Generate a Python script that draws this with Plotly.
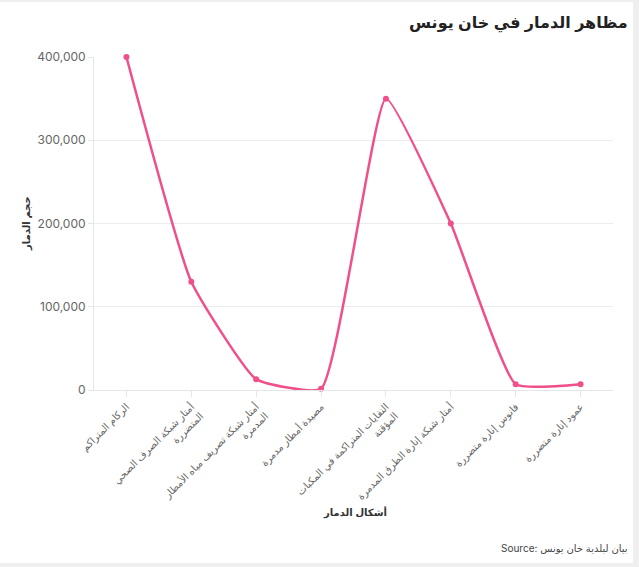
import plotly.graph_objects as go

categories = [
    "الركام المتراكم",
    "أمتار شبكة الصرف الصحي<br>المتضررة",
    "أمتار شبكة تصريف مياه الأمطار<br>المدمرة",
    "مصيدة أمطار مدمرة",
    "النفايات المتراكمة في المكبات<br>المؤقتة",
    "أمتار شبكة إنارة الطرق المدمرة",
    "فانوس إنارة متضررة",
    "عمود إنارة متضررة",
]
values = [400000, 130000, 13000, 1500, 350000, 200000, 7000, 7000]
y_ticks = [0, 100000, 200000, 300000, 400000]
y_tick_labels = ["0", "100,000", "200,000", "300,000", "400,000"]

W, H = 639, 567
ML, MR, MT, MB = 94, 26, 57, 177
PW = W - ML - MR
PH = H - MT - MB

def px_x(px):
    return (px - ML) / PW

def px_y(py):
    return (H - MB - py) / PH

pink = "#f0508a"

fig = go.Figure()
fig.add_trace(go.Scatter(
    x=categories, y=values, mode="lines+markers",
    line=dict(color=pink, width=2.5, shape="spline", smoothing=0.42),
    marker=dict(color=pink, size=6),
    cliponaxis=False,
    hoverinfo="x+y",
))

fig.update_layout(
    width=W, height=H,
    margin=dict(l=ML, r=MR, t=MT, b=MB),
    paper_bgcolor="#efefef",
    plot_bgcolor="white",
    showlegend=False,
    font=dict(family="Inter, Arial, DejaVu Sans", color="#666666"),
    xaxis=dict(
        type="category", range=[-0.5, 7.5], tickangle=-45,
        showgrid=False, showline=True, linecolor="#e6e6e6", linewidth=1,
        ticks="outside", ticklen=6, tickcolor="#e6e6e6",
        tickfont=dict(size=10, color="#666666", family="Arial, DejaVu Sans"),
        zeroline=False,
    ),
    yaxis=dict(
        range=[0, 400000], tickvals=y_ticks, ticktext=y_tick_labels,
        showgrid=True, gridcolor="#ececec", gridwidth=1,
        showline=True, linecolor="#e6e6e6", linewidth=1,
        ticks="outside", ticklen=5, tickcolor="#e6e6e6",
        tickfont=dict(size=12, color="#666666", family="Inter, Arial"),
        zeroline=False,
    ),
    shapes=[dict(
        type="rect", xref="paper", yref="paper", layer="below",
        x0=px_x(0), x1=px_x(633), y0=px_y(563), y1=px_y(2),
        fillcolor="white", line=dict(width=0),
    )],
    annotations=[
        dict(text="<b>مظاهر الدمار في خان يونس</b>", xref="paper", yref="paper",
             x=px_x(630), y=px_y(23), xanchor="right", yanchor="middle",
             showarrow=False, font=dict(size=16, color="#222222", family="Arial, DejaVu Sans")),
        dict(text="<b>حجم الدمار</b>", xref="paper", yref="paper",
             x=px_x(27), y=px_y(224), xanchor="center", yanchor="middle", textangle=-90,
             showarrow=False, font=dict(size=10, color="#333333", family="Arial, DejaVu Sans")),
        dict(text="<b>أشكال الدمار</b>", xref="paper", yref="paper",
             x=px_x(355), y=px_y(512), xanchor="center", yanchor="middle",
             showarrow=False, font=dict(size=10, color="#333333", family="Arial, DejaVu Sans")),
        dict(text="Source: بيان لبلدية خان يونس", xref="paper", yref="paper",
             x=px_x(630), y=px_y(548), xanchor="right", yanchor="middle",
             showarrow=False, font=dict(size=10, color="#444444", family="Inter, Arial, DejaVu Sans")),
    ],
)

fig.write_html("out.html")
